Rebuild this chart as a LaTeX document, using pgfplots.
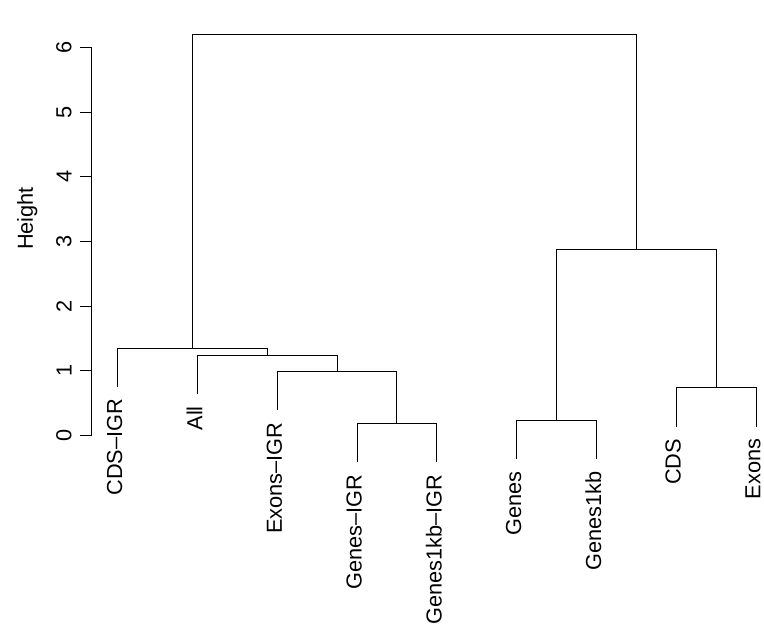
\documentclass[border=0pt]{standalone}
\usepackage{pgfplots}
\pgfplotsset{compat=1.18}
\usepackage{fontspec}
\setmainfont{Liberation Sans}
\newcommand{\lblfont}{\fontsize{21.8}{26}\selectfont}
\begin{document}
\begin{tikzpicture}
\begin{axis}[
  x=80pt, y=64.83pt,
  xmin=0.675, xmax=9.075, ymin=-2.843, ymax=6.736,
  clip=false,
  axis line style={draw=none},
  xtick=\empty,
  ytick={0,1,2,3,4,5,6},
  ytick pos=left,
  tick align=outside,
  major tick length=12pt,
  tick style={black, line width=1pt},
  /pgf/number format/assume math mode=true,
  yticklabel shift=8pt,
  yticklabel style={rotate=90, anchor=south, inner sep=0pt, font=\lblfont},
]
% y axis line from 0 to 6
\addplot[black, line width=1pt] coordinates {(0.675,0) (0.675,6)};
% dendrogram merges
\addplot[black, line width=1pt] coordinates {(4,-0.415) (4,0.185) (5,0.185) (5,-0.415)};
\addplot[black, line width=1pt] coordinates {(3,0.388) (3,0.988) (4.5,0.988) (4.5,0.185)};
\addplot[black, line width=1pt] coordinates {(2,0.64) (2,1.24) (3.75,1.24) (3.75,0.988)};
\addplot[black, line width=1pt] coordinates {(1,0.753) (1,1.353) (2.875,1.353) (2.875,1.24)};
\addplot[black, line width=1pt] coordinates {(6,-0.368) (6,0.232) (7,0.232) (7,-0.368)};
\addplot[black, line width=1pt] coordinates {(8,0.136) (8,0.736) (9,0.736) (9,0.136)};
\addplot[black, line width=1pt] coordinates {(6.5,0.232) (6.5,2.88) (8.5,2.88) (8.5,0.736)};
\addplot[black, line width=1pt] coordinates {(1.9375,1.353) (1.9375,6.21) (7.5,6.21) (7.5,2.88)};
% leaf labels
\addplot[only marks, mark=none, nodes near coords, point meta=explicit symbolic,
  nodes near coords style={rotate=90, anchor=east, inner sep=0pt, font=\lblfont, text=black}]
  table[meta=label, row sep=\\] {
  x y label\\
  0.9625 0.568 CDS--IGR\\
  1.9625 0.455 All\\
  2.9625 0.203 Exons--IGR\\
  3.9625 -0.600 Genes--IGR\\
  4.9625 -0.600 Genes1kb--IGR\\
  5.9625 -0.553 Genes\\
  6.9625 -0.553 Genes1kb\\
  7.9625 -0.049 CDS\\
  8.9625 -0.049 Exons\\
};
\node[rotate=90, anchor=base, font=\lblfont] at (axis cs:-0.0625,3.358) {Height};
\path (axis cs:-0.475,-2.843) rectangle (axis cs:9.1,6.736);
\end{axis}
\end{tikzpicture}
\end{document}
